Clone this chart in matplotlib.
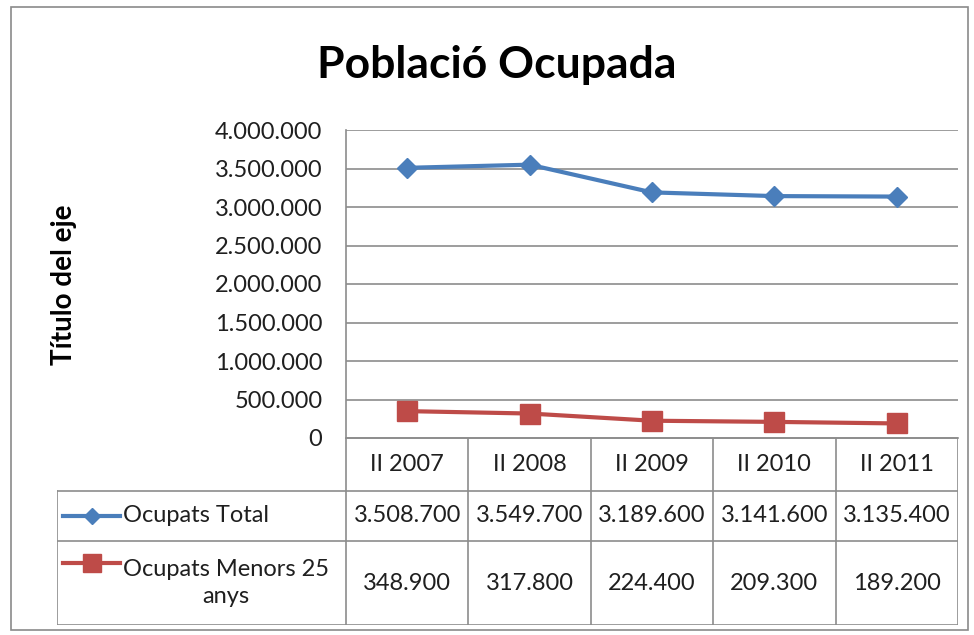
import matplotlib.pyplot as plt
from matplotlib.patches import Rectangle
from matplotlib.ticker import FuncFormatter

plt.rcParams['font.family'] = ['Lato', 'DejaVu Sans']

# data
periods = ['II 2007', 'II 2008', 'II 2009', 'II 2010', 'II 2011']
total = [3508700, 3549700, 3189600, 3141600, 3135400]
young = [348900, 317800, 224400, 209300, 189200]
series_names = ['Ocupats Total', 'Ocupats Menors 25\nanys']

blue = '#4A7EBB'
red = '#BE4B48'
grid_c = '#8C8C8C'
txt_c = '#1F1F1F'

W, H = 974, 635
fig = plt.figure(figsize=(W / 100, H / 100), dpi=100)


def fbox(x0, y0, x1, y1):
    # pixel box (top-left origin) -> figure fraction [l, b, w, h]
    return [x0 / W, 1 - y1 / H, (x1 - x0) / W, (y1 - y0) / H]


# outer chart border
fig.patches.append(Rectangle((11 / W, 1 - 630 / H), 957 / W, 623 / H,
                             transform=fig.transFigure, fill=False,
                             edgecolor='#8A8A8A', lw=1.2))

fig.text(497 / W, 1 - 65 / H, 'Població Ocupada', ha='center', va='center',
         fontsize=32, fontweight='bold', color='black')
fig.text(64 / W, 1 - 285 / H, 'Título del eje', rotation=90, ha='center',
         va='center', fontsize=20, fontweight='bold', color='black')

# plot area
ax = fig.add_axes(fbox(346, 130, 958, 438))
x = list(range(len(periods)))
ax.plot(x, total, color=blue, lw=3, marker='D', ms=10, zorder=3)
ax.plot(x, young, color=red, lw=3, marker='s', ms=14, zorder=3)
ax.set_xlim(-0.5, len(periods) - 0.5)
ax.set_ylim(0, 4000000)
ax.set_yticks(range(0, 4000001, 500000))
ax.yaxis.set_major_formatter(FuncFormatter(lambda v, p: f'{int(v):,}'.replace(',', '.')))
ax.set_xticks([])
ax.tick_params(axis='y', length=0, pad=17, labelsize=17, labelcolor=txt_c)
ax.grid(axis='y', color=grid_c, lw=1.2)
for s in ['top', 'right']:
    ax.spines[s].set_visible(False)
ax.spines['left'].set_color(grid_c)
ax.spines['bottom'].set_color(grid_c)
ax.spines['left'].set_linewidth(1.2)
ax.spines['bottom'].set_linewidth(1.2)

# data table under the plot
cw = 612 / len(periods)
lab_w = (346 - 57) / cw
tab = fig.add_axes(fbox(57, 438, 958, 625))
tab.set_xlim(-0.5 - lab_w, len(periods) - 0.5)
tab.set_ylim(187, 0)
tab.axis('off')

rows = [0, 53, 103, 187]
lc = dict(color=grid_c, lw=1.2)
tab.plot([-0.5, len(periods) - 0.5], [rows[0]] * 2, **lc)
for r in rows[1:]:
    tab.plot([-0.5 - lab_w, len(periods) - 0.5], [r, r], **lc)
for i in range(len(periods) + 1):
    tab.plot([i - 0.5, i - 0.5], [rows[0], rows[3]], **lc)
tab.plot([-0.5 - lab_w] * 2, [rows[1], rows[3]], **lc)

fs = 17
for i, p in enumerate(periods):
    tab.text(i, (rows[0] + rows[1]) / 2, p, ha='center', va='center', fontsize=fs, color=txt_c)
    tab.text(i, (rows[1] + rows[2]) / 2, f'{total[i]:,}'.replace(',', '.'),
             ha='center', va='center', fontsize=fs, color=txt_c)
    tab.text(i, (rows[2] + rows[3]) / 2, f'{young[i]:,}'.replace(',', '.'),
             ha='center', va='center', fontsize=fs, color=txt_c)


def px(v):
    return -0.5 - (346 - v) / cw


# legend keys
tab.plot([px(63), px(120)], [(rows[1] + rows[2]) / 2] * 2, color=blue, lw=3)
tab.plot([px(91.5)], [(rows[1] + rows[2]) / 2], color=blue, marker='D', ms=8)
tab.text(px(123), (rows[1] + rows[2]) / 2, series_names[0], ha='left', va='center',
         fontsize=fs, color=txt_c)
ky = rows[2] + 22
tab.plot([px(63), px(120)], [ky, ky], color=red, lw=3)
tab.plot([px(91.5)], [ky], color=red, marker='s', ms=13)
tab.text(px(123), (rows[2] + rows[3]) / 2, series_names[1], ha='left', va='center',
         multialignment='center', fontsize=fs, color=txt_c, linespacing=1.3)

fig.savefig('out.png', dpi=100)
